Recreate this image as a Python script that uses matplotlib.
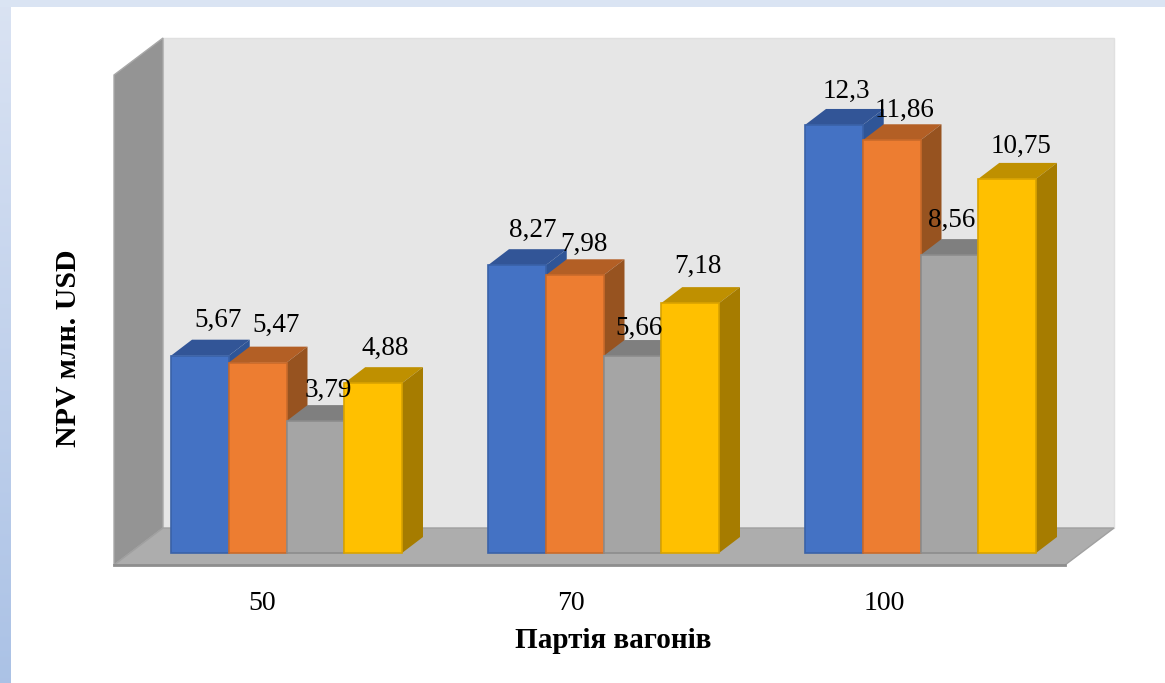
import numpy as np
import matplotlib
matplotlib.use("Agg")
import matplotlib.pyplot as plt

plt.rcParams['font.family'] = ['Liberation Serif', 'DejaVu Serif']

categories = ["50", "70", "100"]
series_1 = [5.67, 8.27, 12.3]
series_2 = [5.47, 7.98, 11.86]
series_3 = [3.79, 5.66, 8.56]
series_4 = [4.88, 7.18, 10.75]
labels_1 = ["5,67", "8,27", "12,3"]
labels_2 = ["5,47", "7,98", "11,86"]
labels_3 = ["3,79", "5,66", "8,56"]
labels_4 = ["4,88", "7,18", "10,75"]

series = [series_1, series_2, series_3, series_4]
labels = [labels_1, labels_2, labels_3, labels_4]

# front, top, side, edge
colors = [("#4472C4", "#325597", "#2F5597", "#3A62A8"),
          ("#ED7D31", "#B35F25", "#975320", "#C96A2A"),
          ("#A5A5A5", "#7F7F7F", "#6F6F6F", "#8C8C8C"),
          ("#FFC000", "#BF9000", "#A67C00", "#D9A300")]

# label shift from the bar centre / top, in pixels
label_dx = [[18, 16, 12], [18, 9, 13], [13, 7, 2], [12, 8, 14]]
label_dy = [[35, 35, 34], [37, 31, 30], [31, 28, 35], [35, 37, 32]]

PX_X = 1 / 317
PX_Y = 1 / 34.8
bar_w = 57.75 * PX_X
depth_x, depth_y = 21 * PX_X, 16 * PX_Y
wall_x, wall_y = 49 * PX_X, 37 * PX_Y

fig = plt.figure(figsize=(11.65, 6.83), dpi=100, facecolor="white")

# blue frame on the left and top
bg = fig.add_axes([0, 0, 1, 1], zorder=0)
grad = np.linspace(0, 1, 256).reshape(-1, 1)
left_c = np.array([0.855, 0.89, 0.953]) * (1 - grad[..., None]) + np.array([0.67, 0.76, 0.90]) * grad[..., None]
bg.imshow(left_c, extent=[0, 11 / 1165, 0, 1], aspect="auto")
bg.fill_between([0, 1], 1 - 7 / 683, 1, color="#DAE4F3", lw=0)
bg.set_xlim(0, 1)
bg.set_ylim(0, 1)
bg.axis("off")

ax = fig.add_axes([114 / 1165, (683 - 565) / 683, 951 / 1165, 490 / 683], zorder=1)
x0, x1 = -172.5 * PX_X, 778.5 * PX_X
y0, y1 = -12 * PX_Y, 478 * PX_Y
ax.set_xlim(x0, x1)
ax.set_ylim(y0, y1)
ax.patch.set_visible(False)
for s in ax.spines.values():
    s.set_visible(False)

# walls and floor
ax.fill([x0 + wall_x, x1 + wall_x, x1 + wall_x, x0 + wall_x],
        [y0 + wall_y, y0 + wall_y, y1 + wall_y, y1 + wall_y],
        color="#E6E6E6", ec="#E0E0E0", lw=1, clip_on=False, zorder=1)
ax.fill([x0, x0 + wall_x, x0 + wall_x, x0], [y0, y0 + wall_y, y1 + wall_y, y1],
        color="#949494", ec="#A8A8A8", lw=1, clip_on=False, zorder=2)
ax.fill([x0, x1, x1 + wall_x, x0 + wall_x], [y0, y0, y0 + wall_y, y0 + wall_y],
        color="#ADADAD", ec="#A0A0A0", lw=1, clip_on=False, zorder=2)
ax.plot([x0, x1], [y0, y0], color="#8E8E8E", lw=2, clip_on=False, zorder=3)

z = 4
for g in range(len(categories)):
    for i in range(4):
        v = series[i][g]
        left = g + (i - 2) * bar_w
        front, top, side, edge = colors[i]
        right = left + bar_w
        ax.fill([left, right, right + depth_x, left + depth_x],
                [v, v, v + depth_y, v + depth_y], color=top, lw=0, zorder=z, clip_on=False)
        ax.fill([right, right + depth_x, right + depth_x, right],
                [0, depth_y, v + depth_y, v], color=side, lw=0, zorder=z, clip_on=False)
        ax.bar(left, v, bar_w, align="edge", color=front, edgecolor=edge, linewidth=1.2, zorder=z + 1)
        ax.annotate(labels[i][g], (left + bar_w / 2, v),
                    xytext=(label_dx[i][g], label_dy[i][g]), textcoords="offset pixels",
                    ha="center", va="center", fontsize=19.5, color="black", zorder=100)
        z += 2

tick_pos = [(262 - 286.5) * PX_X, (571 - 286.5) * PX_X, (884 - 286.5) * PX_X]
ax.set_xticks(tick_pos)
ax.set_xticklabels(categories, fontsize=20)
ax.tick_params(axis="x", length=0, pad=19)
ax.set_yticks([])

fig.text(613 / 1165, 1 - 640 / 683, "Партія вагонів", ha="center", va="center",
         fontsize=21, fontweight="bold")
fig.text(68 / 1165, 1 - 348 / 683, "NPV млн. USD", ha="center", va="center",
         rotation=90, fontsize=21.5, fontweight="bold")

fig.savefig("out.png", dpi=100)
